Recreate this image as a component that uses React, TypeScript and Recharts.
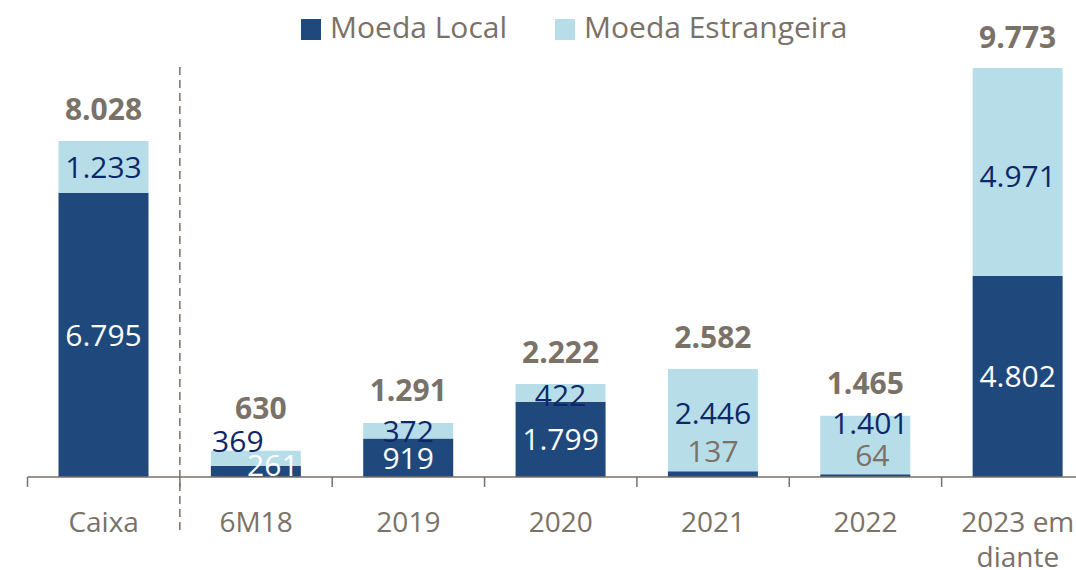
import React from 'react';
import { BarChart, Bar, XAxis, YAxis, LabelList } from 'recharts';

const categories = ['Caixa', '6M18', '2019', '2020', '2021', '2022', '2023 em diante'];
const moedaLocal = [6795, 261, 919, 1799, 137, 64, 4802];
const moedaEstrangeira = [1233, 369, 372, 422, 2446, 1401, 4971];
const totals = [8028, 630, 1291, 2222, 2582, 1465, 9773];
const tickLabels = [['Caixa'], ['6M18'], ['2019'], ['2020'], ['2021'], ['2022'], ['2023 em', 'diante']];

const data = categories.map((c, i) => ({
  name: c,
  local: moedaLocal[i],
  estrangeira: moedaEstrangeira[i],
  total: totals[i],
}));

// layout
const CHART_W = 1100;
const CHART_H = 570;
const M = { top: 58.5, right: 6, left: 27.5, bottom: 0 };
const XAXIS_H = 93;
const PLOT_W = CHART_W - M.left - M.right;
const BAND = PLOT_W / categories.length;
const AXIS_Y = CHART_H - M.bottom - XAXIS_H;

const DARK = '#1f497d';
const LIGHT = '#b7dde8';
const GRAY = '#7a7167';
const NAVY = '#0c2868';
const FONT = '"Open Sans", "Noto Sans", sans-serif';
const LABEL_FS = 30;
const TOTAL_FS = 30;
const TICK_FS = 28;
const LEGEND_FS = 30;

// label adjustments (styling)
const localDx = [0, 17, 0, 0, 0, 7, 0];
const localDy = [0, -6, 0, 0, -23, -20, 0];
const localColor = ['#fff', '#fff', '#fff', '#fff', GRAY, GRAY, '#fff'];
const foreignDx = [0, -18, 0, 0, 0, 5, 0];
const foreignDy = [0, -17, 0, 2, -7, -22, 4];
const totalDx = [0, 5, 0, 0, 0, 0, 0];
const totalDy = [-32, -42, -33, -32, -32, -32, -31];

const fmt = (v: number) => String(v).replace(/\B(?=(\d{3})+(?!\d))/g, '.');

const makeLabel = (dxArr: number[], dyArr: number[], colors: string[] | string, values: number[]) => (p: any) => {
  const { x, y, width, height, index } = p;
  const cx = Number(x) + Number(width) / 2 + dxArr[index];
  const cy = Number(y) + Number(height) / 2 + dyArr[index];
  const fill = Array.isArray(colors) ? colors[index] : colors;
  return (
    <text x={cx} y={cy + LABEL_FS * 0.36} textAnchor="middle" fill={fill} fontSize={LABEL_FS} fontFamily={FONT}>
      {fmt(values[index])}
    </text>
  );
};

const TotalLabel = (p: any) => {
  const { x, y, width, index } = p;
  const cx = Number(x) + Number(width) / 2 + totalDx[index];
  const cy = Number(y) + totalDy[index];
  return (
    <text x={cx} y={cy + TOTAL_FS * 0.36} textAnchor="middle" fill={GRAY} fontSize={TOTAL_FS} fontWeight={700} fontFamily={FONT}>
      {fmt(totals[index])}
    </text>
  );
};

const Tick = (p: any) => {
  const { x, index } = p;
  const lines = tickLabels[index] || [];
  const cx = Number(x);
  return (
    <g>
      <line x1={cx - BAND / 2} x2={cx - BAND / 2} y1={AXIS_Y} y2={AXIS_Y + 10} stroke={GRAY} strokeWidth={1.5} />
      {index === categories.length - 1 && (
        <line x1={cx + BAND / 2} x2={cx + BAND / 2} y1={AXIS_Y} y2={AXIS_Y + 10} stroke={GRAY} strokeWidth={1.5} />
      )}
      {index === 0 && (
        <line x1={cx + BAND / 2} x2={cx + BAND / 2} y1={67} y2={534} stroke={GRAY} strokeWidth={1.5} strokeDasharray="8 5" />
      )}
      <text x={cx} y={AXIS_Y + 55} textAnchor="middle" fill={GRAY} fontSize={TICK_FS} fontFamily={FONT}>
        {lines.map((l, k) => (
          <tspan key={k} x={cx} dy={k === 0 ? 0 : 35}>
            {l}
          </tspan>
        ))}
      </text>
    </g>
  );
};

const LegendBox = () => (
  <div style={{ position: 'absolute', left: 0, top: 0, width: 1076, height: 60, pointerEvents: 'none' }}>
    <div style={{ position: 'absolute', left: 301, top: 19, width: 20, height: 21, background: DARK }} />
    <div style={{ position: 'absolute', left: 330, top: 7, fontSize: LEGEND_FS, color: GRAY, fontFamily: FONT, whiteSpace: 'nowrap', lineHeight: '40px' }}>
      Moeda Local
    </div>
    <div style={{ position: 'absolute', left: 555, top: 19, width: 20, height: 21, background: LIGHT }} />
    <div style={{ position: 'absolute', left: 584, top: 7, fontSize: LEGEND_FS, color: GRAY, fontFamily: FONT, whiteSpace: 'nowrap', lineHeight: '40px' }}>
      Moeda Estrangeira
    </div>
  </div>
);

export default function App() {
  return (
    <div style={{ position: 'absolute', left: 0, top: 0, width: 1076, height: 570, overflow: 'hidden', background: '#fff' }}>
      <BarChart width={CHART_W} height={CHART_H} data={data} margin={M} barSize={90}>
        <XAxis
          dataKey="name"
          height={XAXIS_H}
          interval={0}
          tickLine={false}
          axisLine={{ stroke: GRAY, strokeWidth: 1.5 }}
          tick={<Tick />}
        />
        <YAxis hide domain={[0, 10000]} />
        <Bar dataKey="local" stackId="a" fill={DARK} isAnimationActive={false}>
          <LabelList dataKey="local" content={makeLabel(localDx, localDy, localColor, moedaLocal)} />
        </Bar>
        <Bar dataKey="estrangeira" stackId="a" fill={LIGHT} isAnimationActive={false}>
          <LabelList dataKey="estrangeira" content={makeLabel(foreignDx, foreignDy, NAVY, moedaEstrangeira)} />
          <LabelList dataKey="total" content={TotalLabel} />
        </Bar>
      </BarChart>
      <LegendBox />
    </div>
  );
}
